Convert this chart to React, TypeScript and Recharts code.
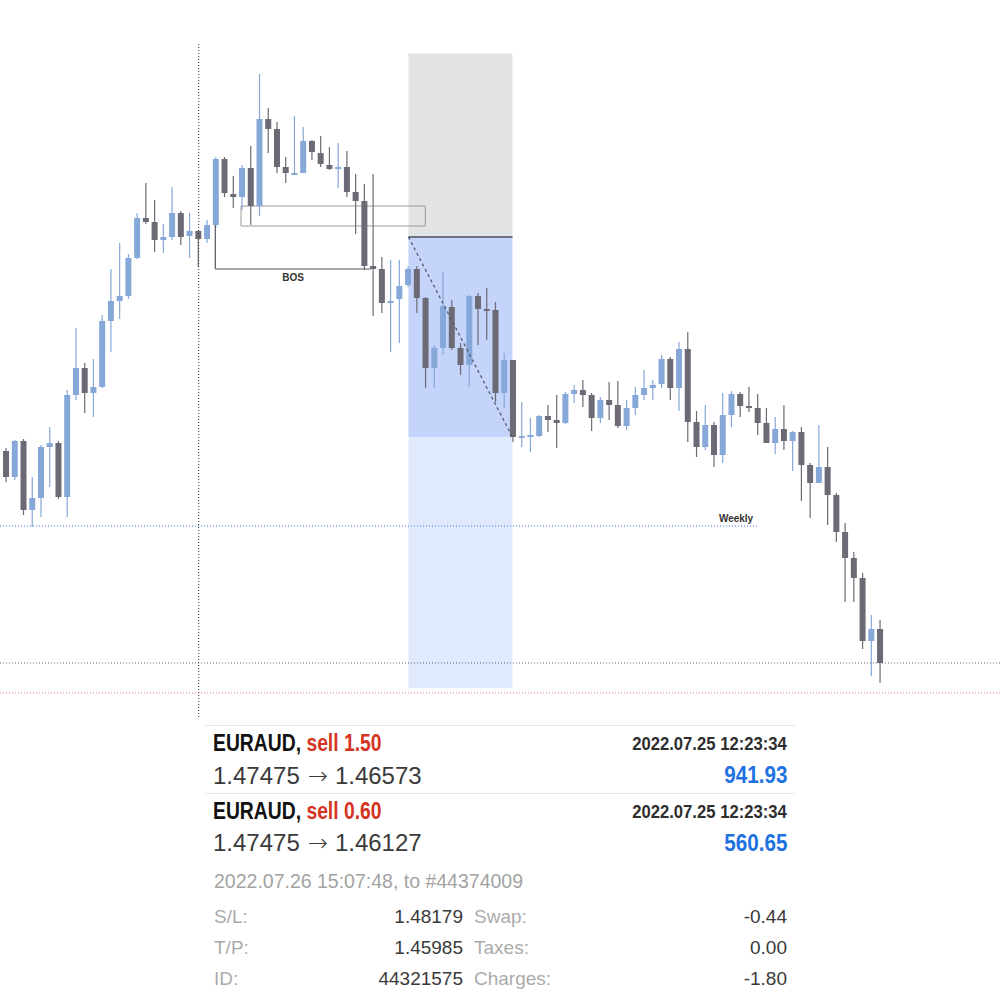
import { ComposedChart, Bar, XAxis, YAxis, ReferenceLine, ReferenceArea } from 'recharts'

// EURAUD candles (price), oldest first
const opens = [
  1.46405, 1.46275, 1.46455, 1.4611, 1.4617, 1.46425, 1.46445, 1.46175, 1.46685, 1.4682,
  1.46695, 1.46725, 1.47055, 1.47155, 1.4718, 1.4737, 1.4757, 1.4755, 1.4746, 1.47475,
  1.47595, 1.4748, 1.47505, 1.47465, 1.47535, 1.47865, 1.4769, 1.47675, 1.4782, 1.4763,
  1.48065, 1.48015, 1.47825, 1.4779, 1.47795, 1.47955, 1.47895, 1.47835, 1.4782, 1.47825,
  1.477, 1.47655, 1.4733, 1.47315, 1.47145, 1.47165, 1.47235, 1.47315, 1.4717, 1.4682,
  1.4692, 1.47125, 1.4692, 1.46835, 1.4718, 1.47115, 1.4711, 1.46695, 1.4686, 1.46475,
  1.46475, 1.4648, 1.4658, 1.4656, 1.46545, 1.4669, 1.4671, 1.46685, 1.4657, 1.4666,
  1.46635, 1.4653, 1.4662, 1.46685, 1.4672, 1.4674, 1.46865, 1.4672, 1.46915, 1.4655,
  1.46425, 1.46535, 1.46385, 1.46585, 1.4669, 1.4663, 1.4662, 1.46545, 1.46445, 1.46515,
  1.46455, 1.465, 1.46335, 1.46245, 1.46325, 1.46185, 1.46, 1.4587, 1.4577, 1.45455,
  1.45515,
]
const highs = [
  1.4642, 1.4646, 1.46465, 1.46275, 1.46435, 1.46525, 1.46455, 1.4671, 1.4702, 1.46845,
  1.46865, 1.47085, 1.47315, 1.47445, 1.4739, 1.47595, 1.47745, 1.4766, 1.4754, 1.47725,
  1.47605, 1.47595, 1.4751, 1.4756, 1.47875, 1.47875, 1.4778, 1.47835, 1.4793, 1.4829,
  1.4812, 1.4805, 1.47875, 1.4808, 1.48025, 1.4796, 1.4798, 1.47925, 1.47945, 1.47905,
  1.4779, 1.4774, 1.4779, 1.47375, 1.4736, 1.4736, 1.4733, 1.4733, 1.47175, 1.46935,
  1.473, 1.4716, 1.46945, 1.47185, 1.47195, 1.4722, 1.4715, 1.46895, 1.4686, 1.4665,
  1.4657, 1.46585, 1.46635, 1.46685, 1.467, 1.46735, 1.4676, 1.46695, 1.46675, 1.4675,
  1.46755, 1.4666, 1.46725, 1.4681, 1.4676, 1.46885, 1.46875, 1.4695, 1.47, 1.46605,
  1.46635, 1.4655, 1.46695, 1.46705, 1.467, 1.46725, 1.4669, 1.4662, 1.46575, 1.46635,
  1.46505, 1.46525, 1.46345, 1.46535, 1.46425, 1.46195, 1.46045, 1.459, 1.45795, 1.45585,
  1.4556,
]
const lows = [
  1.4625, 1.4626, 1.46085, 1.46025, 1.46075, 1.46225, 1.46165, 1.46075, 1.4666, 1.46595,
  1.46575, 1.4672, 1.469, 1.47065, 1.47165, 1.47365, 1.4754, 1.474, 1.47395, 1.4746,
  1.47435, 1.4737, 1.47325, 1.47445, 1.4752, 1.47675, 1.4762, 1.4761, 1.47535, 1.4758,
  1.47895, 1.47795, 1.47745, 1.4779, 1.47795, 1.4786, 1.47825, 1.4781, 1.4772, 1.47675,
  1.4749, 1.4731, 1.4708, 1.47095, 1.469, 1.46945, 1.47225, 1.47095, 1.4672, 1.4672,
  1.46885, 1.4691, 1.46785, 1.46725, 1.46935, 1.4696, 1.4665, 1.4662, 1.4645, 1.46425,
  1.464, 1.46475, 1.465, 1.4642, 1.4654, 1.46645, 1.46625, 1.46505, 1.46545, 1.4656,
  1.4652, 1.4651, 1.46585, 1.4666, 1.4666, 1.4672, 1.4666, 1.46605, 1.4645, 1.46375,
  1.4641, 1.46325, 1.46345, 1.46525, 1.46575, 1.466, 1.46485, 1.46445, 1.4639, 1.4641,
  1.46305, 1.46155, 1.4607, 1.46245, 1.46035, 1.4595, 1.4565, 1.4565, 1.45415, 1.4528,
  1.45245,
]
const closes = [
  1.46275, 1.46455, 1.4611, 1.4617, 1.46425, 1.46445, 1.46175, 1.46685, 1.4682, 1.46695,
  1.46725, 1.47055, 1.47155, 1.4718, 1.4737, 1.4757, 1.4755, 1.4746, 1.47475, 1.47595,
  1.47475, 1.47505, 1.47465, 1.47535, 1.47865, 1.47695, 1.47675, 1.4782, 1.4763, 1.48065,
  1.48015, 1.47825, 1.47795, 1.47795, 1.47955, 1.479, 1.4784, 1.47815, 1.47825, 1.477,
  1.47655, 1.4733, 1.47315, 1.47145, 1.47155, 1.4723, 1.47315, 1.4717, 1.4682, 1.4692,
  1.4713, 1.4692, 1.46835, 1.4718, 1.47115, 1.4711, 1.46695, 1.4686, 1.46475, 1.4648,
  1.46485, 1.4658, 1.4656, 1.46545, 1.4669, 1.4671, 1.46685, 1.4657, 1.4666, 1.46635,
  1.4653, 1.4662, 1.46685, 1.4672, 1.46735, 1.46865, 1.4672, 1.46915, 1.4655, 1.46425,
  1.46535, 1.46385, 1.46585, 1.4669, 1.4663, 1.4662, 1.46545, 1.46445, 1.46515, 1.46455,
  1.465, 1.46335, 1.46245, 1.46325, 1.46185, 1.46, 1.4587, 1.4577, 1.45455, 1.45515,
  1.45345,
]

// drawn levels on the chart
const entryPrice = 1.47475
const stopBoxTop = 1.48393
const targetMid = 1.46475
const targetBottom = 1.4522
const tradeFrom = 46
const tradeTo = 57.9
const weeklyLevel = 1.4603
const lastPrice = 1.45345
const redLevel = 1.45195
const bosLevel = 1.47315
const bosOrigin = 1.47535
const bosFrom = 23.9
const bosTo = 41.7
const zoneTop = 1.4763
const zoneBottom = 1.4753
const zoneFrom = 26.84
const zoneTo = 47.93
const markerBar = 22
const markerTop = 1.4844
const markerBottom = 1.45075
const weeklyEnd = 85.9

const trades = [
  { symbol: 'EURAUD,', side: 'sell 1.50', time: '2022.07.25 12:23:34', from: '1.47475', to: '1.46573', profit: '941.93' },
  { symbol: 'EURAUD,', side: 'sell 0.60', time: '2022.07.25 12:23:34', from: '1.47475', to: '1.46127', profit: '560.65' },
]
const closedNote = '2022.07.26 15:07:48, to #44374009'
const details = [
  ['S/L:', '1.48179', 'Swap:', '-0.44'],
  ['T/P:', '1.45985', 'Taxes:', '0.00'],
  ['ID:', '44321575', 'Charges:', '-1.80'],
]

const BLUE = '#86a8d8'
const DARK = '#6c6b75'
const SANS = "'Liberation Sans', Arial, sans-serif"

const rows = opens.map((o, i) => ({
  i,
  open: o,
  high: highs[i],
  low: lows[i],
  close: closes[i],
  range: [lows[i], highs[i]],
}))

function Candle(props: any) {
  const { x, y, width, height, payload } = props
  if (!payload) return null
  const { open, close, high, low } = payload
  const color = close >= open ? BLUE : DARK
  const k = height / (high - low || 1)
  const yOf = (v: number) => y + (high - v) * k
  const top = yOf(Math.max(open, close))
  const bot = yOf(Math.min(open, close))
  const cx = x + width / 2
  return (
    <g>
      <line x1={cx} x2={cx} y1={y} y2={y + height} stroke={color} strokeWidth={1.2} />
      <rect x={x} y={top} width={width} height={Math.max(bot - top, 2)} fill={color} />
    </g>
  )
}

// condensed look: no narrow face installed, so squeeze the bold sans
const squeeze = (s: number, origin: string) => ({ transform: `scaleX(${s})`, transformOrigin: origin })

function TradePanel() {
  const abs = (s: any) => ({ position: 'absolute' as const, lineHeight: 1, whiteSpace: 'nowrap' as const, ...s })
  return (
    <>
      {trades.map((t, n) => {
        const dy = n * 67.5
        return (
          <div key={n}>
            <div style={abs({ left: 205, top: 725 + dy, width: 590, height: 1, background: '#e6e6e6' })} />
            <div style={abs({ left: 213, top: 732 + dy, fontFamily: SANS, fontWeight: 700, fontSize: 23, ...squeeze(0.84, 'left') })}>
              <span style={{ color: '#111' }}>{t.symbol}</span>{' '}
              <span style={{ color: '#d4341f' }}>{t.side}</span>
            </div>
            <div style={abs({ right: 213, top: 735 + dy, fontFamily: SANS, fontWeight: 700, fontSize: 18.5, color: '#2e2e2e', ...squeeze(0.9, 'right') })}>
              {t.time}
            </div>
            <div style={abs({ left: 213, top: 763.7 + dy, fontFamily: SANS, fontSize: 24, color: '#3a3a3a' })}>
              {t.from}
              <span style={{ fontFamily: "'DejaVu Sans', sans-serif", fontSize: 24, fontWeight: 300, margin: '0 7px 0 8px' }}>→</span>
              {t.to}
            </div>
            <div style={abs({ right: 213, top: 763 + dy, fontFamily: SANS, fontWeight: 700, fontSize: 24, color: '#1f72df', ...squeeze(0.86, 'right') })}>
              {t.profit}
            </div>
          </div>
        )
      })}
      <div style={abs({ left: 214, top: 871.8, fontFamily: SANS, fontSize: 19.5, color: '#a3a3a3' })}>{closedNote}</div>
      {details.map((r, n) => {
        const top = 906.6 + n * 31.2
        return (
          <div key={r[0]}>
            <div style={abs({ left: 214, top, fontFamily: SANS, fontSize: 19, color: '#ababab' })}>{r[0]}</div>
            <div style={abs({ right: 537, top, fontFamily: SANS, fontSize: 19, color: '#3a3a3a' })}>{r[1]}</div>
            <div style={abs({ left: 474, top, fontFamily: SANS, fontSize: 19, color: '#ababab' })}>{r[2]}</div>
            <div style={abs({ right: 213, top, fontFamily: SANS, fontSize: 19, color: '#3a3a3a' })}>{r[3]}</div>
          </div>
        )
      })}
    </>
  )
}

export default function App() {
  return (
    <div style={{ position: 'absolute', left: 0, top: 0, width: 1000, height: 1000, background: '#fff', overflow: 'hidden' }}>
      <ComposedChart width={1000} height={1000} data={rows} margin={{ top: 0, right: 0, bottom: 0, left: 0 }}>
        <XAxis type="number" dataKey="i" domain={[-0.732, 113.68]} hide allowDataOverflow />
        <YAxis type="number" domain={[1.4366, 1.4866]} hide allowDataOverflow />

        <ReferenceArea x1={tradeFrom} x2={tradeTo} y1={entryPrice} y2={stopBoxTop} fill="#e2e3e5" fillOpacity={1} stroke="none" />
        <ReferenceArea x1={tradeFrom} x2={tradeTo} y1={targetMid} y2={entryPrice} fill="#c4d4fa" fillOpacity={1} stroke="none" />
        <ReferenceArea x1={tradeFrom} x2={tradeTo} y1={targetBottom} y2={targetMid} fill="#e1e9fc" fillOpacity={1} stroke="none" />

        <ReferenceLine y={lastPrice} stroke="#55607a" strokeDasharray="1 2" />
        <ReferenceLine y={redLevel} stroke="#ee7b7b" strokeDasharray="1 2" />
        <ReferenceLine
          segment={[{ x: -0.73, y: weeklyLevel }, { x: weeklyEnd, y: weeklyLevel }]}
          stroke="#3d72d6"
          strokeDasharray="1 2"
          label={{ value: 'Weekly', position: 'insideBottomRight', offset: 4, fill: '#333', fontSize: 10, fontWeight: 700, fontFamily: SANS }}
        />
        <ReferenceLine
          segment={[{ x: markerBar, y: markerTop }, { x: markerBar, y: markerBottom }]}
          stroke="#333"
          strokeDasharray="1 2"
        />

        <Bar dataKey="range" barSize={6} shape={(p: any) => <Candle {...p} />} isAnimationActive={false} />

        <ReferenceArea x1={zoneFrom} x2={zoneTo} y1={zoneBottom} y2={zoneTop} fill="none" stroke="#9a9a9a" strokeWidth={1} />
        <ReferenceLine
          segment={[{ x: bosFrom, y: bosOrigin }, { x: bosFrom, y: bosLevel }]}
          stroke="#555"
          strokeWidth={1.2}
        />
        <ReferenceLine
          segment={[{ x: bosFrom, y: bosLevel }, { x: bosTo, y: bosLevel }]}
          stroke="#555"
          strokeWidth={1.2}
          label={{ value: 'BOS', position: 'bottom', offset: 5, fill: '#333', fontSize: 10, fontWeight: 700, fontFamily: SANS }}
        />
        <ReferenceLine
          segment={[{ x: tradeFrom, y: entryPrice }, { x: tradeTo, y: entryPrice }]}
          stroke="#4a4e5c"
          strokeWidth={1.3}
        />
        <ReferenceLine
          segment={[{ x: tradeFrom, y: entryPrice }, { x: tradeTo, y: targetMid }]}
          stroke="#555a66"
          strokeWidth={1.3}
          strokeDasharray="3 3"
        />
      </ComposedChart>
      <TradePanel />
    </div>
  )
}
